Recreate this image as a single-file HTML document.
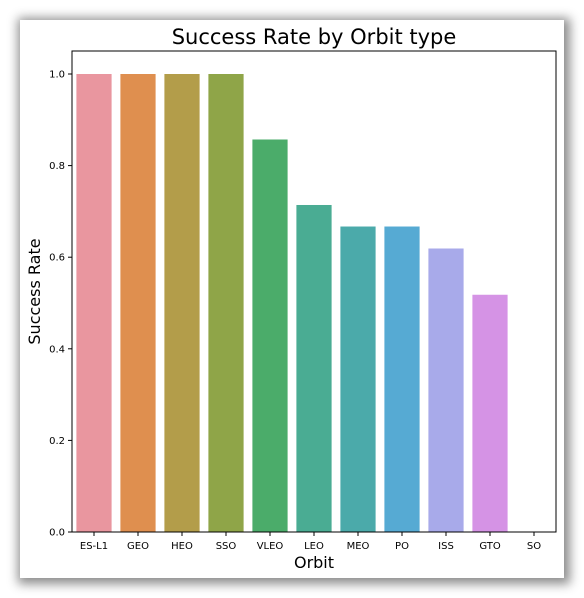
<!DOCTYPE html>
<html><head><meta charset="utf-8"><style>
body{margin:0;background:#fff;}
#card{position:absolute;left:20px;top:20px;width:544px;height:558px;background:#fff;box-shadow:2px 2px 10px 4px rgba(0,0,0,0.45);}
svg{position:absolute;left:0;top:0;}
text{font-family:"DejaVu Sans","Liberation Sans",sans-serif;fill:#000;}
</style></head><body>
<div id="card"></div>
<svg id="chart" width="584" height="598"></svg>
<script>
const categories=["ES-L1","GEO","HEO","SSO","VLEO","LEO","MEO","PO","ISS","GTO","SO"];
const successRates=[1.0,1.0,1.0,1.0,0.857,0.714,0.667,0.667,0.619,0.518,0.0];
const colors=["#e9969f","#df8f4f","#b39d4a","#8fa548","#4bac6a","#4aac93","#4baaaa","#56aad3","#a8aaea","#d593e5","#e892c4"];
const yTicks=[0.0,0.2,0.4,0.6,0.8,1.0];
const L=72,R=556,T=51,B=532;
const ns="http://www.w3.org/2000/svg";
const svg=document.getElementById('chart');
function y(v){return B-v*458;}
const band=(R-L)/categories.length;
function x(i){return L+band*i+band/2;}
function mk(tag,attrs,txt){const e=document.createElementNS(ns,tag);for(const k in attrs)e.setAttribute(k,attrs[k]);if(txt!==undefined)e.textContent=txt;svg.appendChild(e);return e;}
categories.forEach((c,i)=>{
  const v=successRates[i];
  const r=mk('rect',{x:x(i)-band*0.4,y:y(v),width:band*0.8,height:B-y(v),fill:colors[i]});
  
  
  const t=mk('line',{x1:x(i),x2:x(i),y1:B,y2:B+4,stroke:'#000','stroke-width':1});
  
  
  const l=mk('text',{x:x(i),y:B+17,'text-anchor':'middle','font-size':10},c);
  
  
});
yTicks.forEach(v=>{
  const t=mk('line',{x1:L-4,x2:L,y1:y(v),y2:y(v),stroke:'#000','stroke-width':1});
  
  
  const l=mk('text',{x:L-7,y:y(v)+3.5,'text-anchor':'end','font-size':10},v.toFixed(1));
  
  
});
const f=mk('rect',{x:L,y:T,width:R-L,height:B-T,fill:'none',stroke:'#000','stroke-width':1});


const ti=mk('text',{x:(L+R)/2,y:T-7,'text-anchor':'middle','font-size':21},'Success Rate by Orbit type');


const xt=mk('text',{x:(L+R)/2,y:568,'text-anchor':'middle','font-size':16},'Orbit');


const yt=mk('text',{x:0,y:0,'text-anchor':'middle','font-size':16,transform:'translate(40,'+((T+B)/2)+') rotate(-90)'},'Success Rate');


</script>
</body></html>
